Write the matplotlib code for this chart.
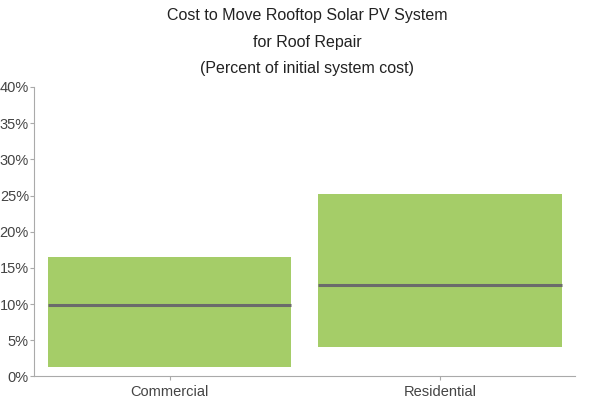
import matplotlib.pyplot as plt

plt.rcParams['font.family'] = ['Liberation Sans', 'DejaVu Sans']

categories = ['Commercial', 'Residential']
low = [1.3, 4.1]
high = [16.5, 25.2]
median = [9.9, 12.65]
yticks = [0, 5, 10, 15, 20, 25, 30, 35, 40]

fig = plt.figure(figsize=(6.15, 4.0), dpi=100)
ax = fig.add_axes([0.056, 0.059, 0.879, 0.7235])

x = list(range(len(categories)))
heights = [h - l for h, l in zip(high, low)]
ax.bar(x, heights, bottom=low, width=0.9, color='#a5cd68', zorder=2)
for xi, m in zip(x, median):
    ax.hlines(m, xi - 0.45, xi + 0.45, color='#6b6b6b', linewidth=2.2, zorder=3)

ax.set_xlim(-0.5, 1.5)
ax.set_ylim(0, 40)
ax.set_xticks(x)
ax.set_xticklabels(categories)
ax.set_yticks(yticks)
ax.set_yticklabels([f'{v}%' for v in yticks])

for s in ['top', 'right']:
    ax.spines[s].set_visible(False)
for s in ['left', 'bottom']:
    ax.spines[s].set_color('#aaaaaa')
ax.tick_params(colors='#aaaaaa', labelcolor='#444444', labelsize=10.5, length=3)
ax.tick_params(axis='y', pad=1)
ax.tick_params(axis='x', pad=3)

fig.text(0.5, 0.962, 'Cost to Move Rooftop Solar PV System', ha='center', va='center',
         fontsize=11.5, color='#222222')
fig.text(0.5, 0.895, 'for Roof Repair', ha='center', va='center', fontsize=11.5, color='#222222')
fig.text(0.5, 0.83, '(Percent of initial system cost)', ha='center', va='center',
         fontsize=11.5, color='#222222')

fig.savefig('out.png', dpi=100)
